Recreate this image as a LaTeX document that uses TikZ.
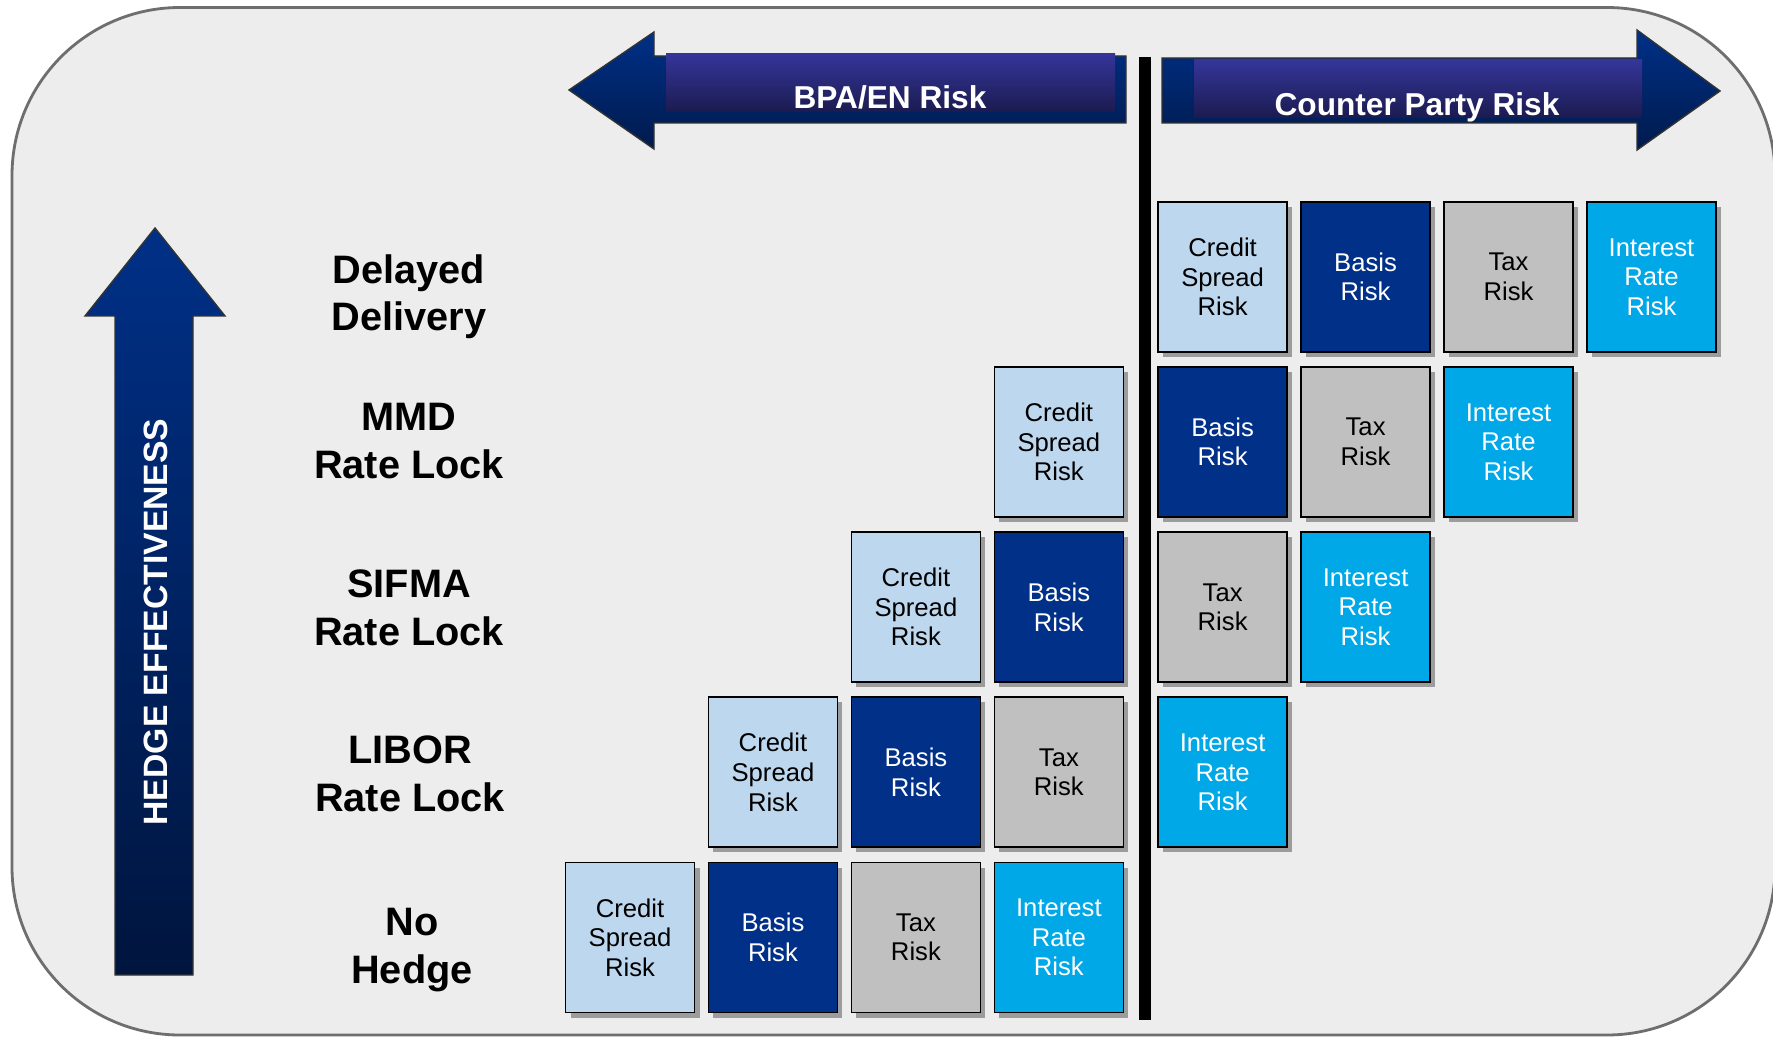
\documentclass[tikz,border=0pt]{standalone}
\usepackage{fontspec}
\setmainfont{Liberation Sans}
\usetikzlibrary{positioning,shadows}
\definecolor{Panel}{HTML}{EDEDED}
\definecolor{Frame}{HTML}{6E6E6E}
\definecolor{Navy}{HTML}{003087}
\definecolor{DeepNavy}{HTML}{001A4D}
\definecolor{Indigo}{HTML}{35359A}
\definecolor{DeepIndigo}{HTML}{1B1B50}
\definecolor{Sky}{HTML}{BDD7EE}
\definecolor{Silver}{HTML}{C0C0C0}
\definecolor{RateCyan}{HTML}{00A8E8}
\tikzset{
  riskbox/.style={
    draw=black, line width=0.5pt, minimum width=1.29cm, minimum height=1.50cm,
    inner sep=1pt, align=center, font=\fontsize{7.3}{8.4}\selectfont,
    drop shadow={shadow xshift=0.05cm, shadow yshift=-0.05cm, fill=black!60, opacity=0.6}
  },
  credit/.style={riskbox, fill=Sky, text=black},
  basis/.style={riskbox, fill=Navy, text=white},
  tax/.style={riskbox, fill=Silver, text=black},
  rate/.style={riskbox, fill=RateCyan, text=white},
  hedge/.style={align=center, font=\fontsize{11.3}{13.5}\selectfont\bfseries},
  bannerarrow/.style={draw=black!80, line width=0.4pt, top color=Navy, bottom color=DeepNavy},
  bannertext/.style={text=white, font=\fontsize{9}{11}\selectfont\bfseries}
}

\begin{document}
\begin{tikzpicture}[node distance=0.134cm and 0.122cm]
    \useasboundingbox (0,0) rectangle (17.73,-10.37);
    \fill[white] (0,0) rectangle (17.73,-10.37);
    \draw[draw=Frame, fill=Panel, line width=0.8pt, rounded corners=1.68cm] (0.12,-0.075) rectangle (17.75,-10.35);

    % header arrows
    \draw[bannerarrow] (5.69,-0.90) -- (6.54,-0.32) -- (6.54,-0.56) -- (11.26,-0.56)
      -- (11.26,-1.23) -- (6.54,-1.23) -- (6.54,-1.49) -- cycle;
    \shade[top color=Indigo, bottom color=DeepIndigo] (6.66,-0.54) rectangle (11.15,-1.12);
    \node[bannertext] (bpa) at (8.90,-0.97) {BPA/EN Risk};
    \draw[bannerarrow] (11.62,-0.58) -- (16.37,-0.58) -- (16.37,-0.30) -- (17.20,-0.91)
      -- (16.37,-1.50) -- (16.37,-1.23) -- (11.62,-1.23) -- cycle;
    \shade[top color=Indigo, bottom color=DeepIndigo] (11.94,-0.60) rectangle (16.42,-1.18);
    \node[bannertext] (party) at (14.17,-1.075) {Counter Party Risk};

    % divider
    \draw[line width=0.12cm] (11.45,-0.57) -- (11.45,-10.20);

    % effectiveness arrow
    \draw[draw=black!80, line width=0.4pt, top color=Navy, bottom color=DeepNavy!80!black]
      (1.55,-2.28) -- (2.25,-3.16) -- (1.93,-3.16) -- (1.93,-9.75) -- (1.15,-9.75)
      -- (1.15,-3.16) -- (0.85,-3.16) -- cycle;
    \node[rotate=90, text=white, font=\fontsize{9.6}{11}\selectfont\bfseries] (effect) at (1.56,-6.22) {HEDGE EFFECTIVENESS};

    % row labels
    \node[hedge] (delayed) at (4.09,-2.97) {Delayed\\Delivery};
    \node[hedge] (mmd) at (4.09,-4.41) {MMD\\Rate Lock};
    \node[hedge] (sifma) at (4.09,-6.08) {SIFMA\\Rate Lock};
    \node[hedge] (libor) at (4.10,-7.74) {LIBOR\\Rate Lock};
    \node[hedge] (nohedge) at (4.12,-9.50) {No\\Hedge};

    % no hedge
    \node[credit] (nh1) at (6.30,-9.375) {Credit\\Spread\\Risk};
    \node[basis,right=of nh1] (nh2) {Basis\\Risk};
    \node[tax,right=of nh2] (nh3) {Tax\\Risk};
    \node[rate,right=of nh3] (nh4) {Interest\\Rate\\Risk};
    % libor
    \node[credit,above=of nh2] (lb2) {Credit\\Spread\\Risk};
    \node[basis,right=of lb2] (lb3) {Basis\\Risk};
    \node[tax,right=of lb3] (lb4) {Tax\\Risk};
    \node[rate,right=0.33cm of lb4] (lb5) {Interest\\Rate\\Risk};
    % sifma
    \node[credit,above=of lb3] (sf3) {Credit\\Spread\\Risk};
    \node[basis,right=of sf3] (sf4) {Basis\\Risk};
    \node[tax,right=0.33cm of sf4] (sf5) {Tax\\Risk};
    \node[rate,right=of sf5] (sf6) {Interest\\Rate\\Risk};
    % mmd
    \node[credit,above=of sf4] (mm4) {Credit\\Spread\\Risk};
    \node[basis,right=0.33cm of mm4] (mm5) {Basis\\Risk};
    \node[tax,right=of mm5] (mm6) {Tax\\Risk};
    \node[rate,right=of mm6] (mm7) {Interest\\Rate\\Risk};
    % delayed delivery
    \node[credit,above=of mm5] (dd5) {Credit\\Spread\\Risk};
    \node[basis,right=of dd5] (dd6) {Basis\\Risk};
    \node[tax,right=of dd6] (dd7) {Tax\\Risk};
    \node[rate,right=of dd7] (dd8) {Interest\\Rate\\Risk};
  \end{tikzpicture}
\end{document}
